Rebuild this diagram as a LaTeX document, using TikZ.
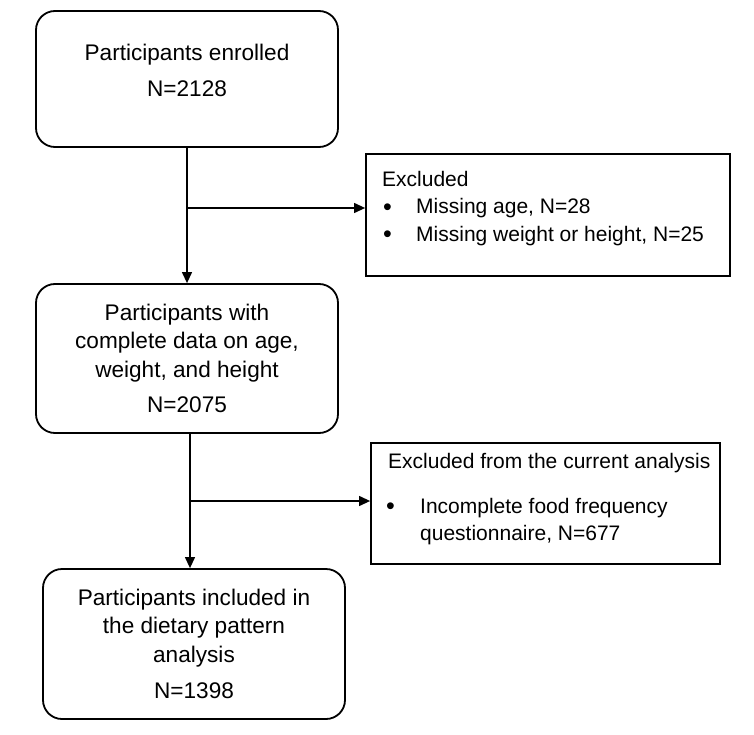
\documentclass[tikz,border=0pt]{standalone}
\usepackage{fontspec}
\setmainfont{Liberation Sans}
\usetikzlibrary{arrows.meta,calc}
\newcommand{\mybul}{\raisebox{-1.5pt}{\fontsize{25}{25}\selectfont\textbullet}}
\begin{document}
\begin{tikzpicture}[x=1pt,y=-1pt,
  mainbox/.style={draw,line width=1.8pt,rounded corners=19pt,inner sep=0pt},
  exbox/.style={draw,line width=1.8pt,inner sep=0pt},
  mtxt/.style={inner sep=0pt,anchor=base,font=\fontsize{22.6}{27}\selectfont},
  etxt/.style={inner sep=0pt,anchor=base west,font=\fontsize{21}{26}\selectfont},
  conn/.style={line width=1.2pt,-{Triangle[length=11pt,width=10pt]}},
  line/.style={line width=1.2pt}]
\useasboundingbox (0,0) rectangle (754,735);
% boxes
\node[mainbox,minimum width=302pt,minimum height=136pt] (b1) at (187,79) {};
\node[mainbox,minimum width=302pt,minimum height=149pt] (b2) at (187,358.5) {};
\node[mainbox,minimum width=302pt,minimum height=150pt] (b3) at (194,644) {};
\node[exbox,minimum width=364pt,minimum height=122pt] (e1) at (548,215) {};
\node[exbox,minimum width=349pt,minimum height=121pt] (e2) at (545.5,503.5) {};
% texts
\node[mtxt] (t11) at (187,61) {Participants enrolled};
\node[mtxt] (t12) at (187,97) {N=2128};
\node[mtxt] (t21) at (187,320) {Participants with};
\node[mtxt] (t22) at (187,348) {complete data on age,};
\node[mtxt] (t23) at (187,377) {weight, and height};
\node[mtxt] (t24) at (187,412) {N=2075};
\node[mtxt] (t31) at (194,605) {Participants included in};
\node[mtxt] (t32) at (194,633) {the dietary pattern};
\node[mtxt] (t33) at (194,662) {analysis};
\node[mtxt] (t34) at (194,698) {N=1398};
\node[etxt] (x11) at (382,187) {Excluded};
\node[etxt] (x1b1) at (383,214) {\mybul};
\node[etxt] (x12) at (416,214) {Missing age, N=28};
\node[etxt] (x1b2) at (383,241) {\mybul};
\node[etxt] (x13) at (416,241) {Missing weight or height, N=25};
\node[etxt] (x21) at (388,468) {Excluded from the current analysis};
\node[etxt] (x2b1) at (386,513) {\mybul};
\node[etxt] (x22) at (420,513) {Incomplete food frequency};
\node[etxt] (x23) at (420,540) {questionnaire, N=677};
% connectors
\coordinate (j1) at (187,208);
\coordinate (c2) at (190,433);
\coordinate (j2) at (190,501);
\draw[conn] (b1.south) -- (b2.north);
\draw[conn] (j1) -- (j1 -| e1.west);
\draw[conn] (c2 |- b2.south) -- (c2 |- b3.north);
\draw[conn] (j2) -- (j2 -| e2.west);
\end{tikzpicture}
\end{document}
